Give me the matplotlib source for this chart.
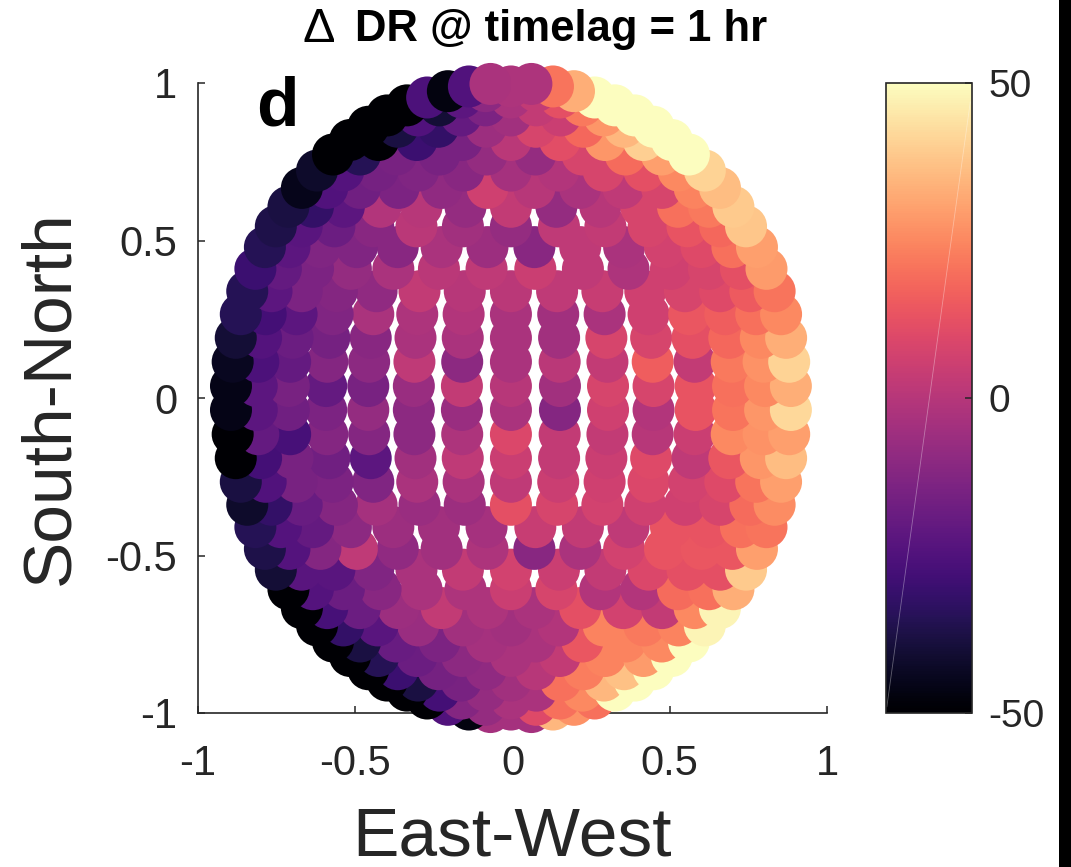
import numpy as np
import matplotlib
matplotlib.use('Agg')
import matplotlib.pyplot as plt
from matplotlib.patches import Rectangle

plt.rcParams['font.family'] = 'Liberation Sans'

# rows, north to south
row_y = [0.997, 0.989, 0.974, 0.954, 0.929, 0.897, 0.861, 0.819, 0.773, 0.722,
         0.667, 0.607, 0.545, 0.479, 0.410, 0.339, 0.266, 0.191, 0.115, 0.038,
         -0.038, -0.115, -0.191, -0.266, -0.339, -0.410, -0.479, -0.545, -0.607, -0.667,
         -0.722, -0.773, -0.819, -0.861, -0.897, -0.929, -0.954, -0.974, -0.989, -0.997]
row_width = [0.073, 0.150, 0.225, 0.299, 0.371, 0.442, 0.509, 0.574, 0.635, 0.692,
             0.746, 0.794, 0.839, 0.878, 0.912, 0.941, 0.964, 0.982, 0.993, 0.999,
             0.999, 0.993, 0.982, 0.964, 0.941, 0.912, 0.878, 0.839, 0.794, 0.746,
             0.692, 0.635, 0.574, 0.509, 0.442, 0.371, 0.299, 0.225, 0.150, 0.073]

# east half of a row, looked up by how many dots the row has
row_positions = {
    2: [0.891],
    3: [0, 0.891],
    4: [0.358, 0.891],
    5: [0, 0.522, 0.891],
    6: [0.218, 0.613, 0.891],
    7: [0, 0.358, 0.669, 0.891],
    8: [0.156, 0.454, 0.707, 0.891],
    9: [0, 0.271, 0.522, 0.734, 0.891],
    10: [0.122, 0.358, 0.574, 0.755, 0.891],
    11: [0, 0.218, 0.426, 0.613, 0.770, 0.891],
    12: [0.100, 0.295, 0.479, 0.644, 0.783, 0.891],
    13: [0, 0.182, 0.358, 0.522, 0.669, 0.793, 0.891],
    14: [0.085, 0.251, 0.410, 0.558, 0.690, 0.802, 0.891],
    15: [0, 0.156, 0.309, 0.454, 0.588, 0.707, 0.809, 0.891],
}

# one list per row, west to east
delta_dr = [
    [-3, -2],
    [-25, -2, 21],
    [-47, -10, 3, 33],
    [-26, -22, -3, 12, 50],
    [-50, -40, -14, 3, 22, 50],
    [-50, -25, -20, -5, 5, 28, 50],
    [-50, -38, -32, -6, 8, 18, 35, 50],
    [-50, -50, -30, -15, 1, 11, 28, 40, 50],
    [-50, -35, -15, -15, -8, -8, 8, 19, 30, 50],
    [-42, -24, -16, -13, -11, -4, -1, 8, 12, 25, 41],
    [-45, -25, -17, -14, -9, 6, 0, -3, 2, 8, 24, 36],
    [-38, -32, -22, -1, 0, -8, 3, -8, 0, 8, 20, 22, 39],
    [-37, -23, -18, -11, 1, -5, -8, 2, 3, 8, 13, 18, 38],
    [-35, -22, -13, -13, -11, -3, -6, -11, 2, -3, 7, 10, 20, 30],
    [-30, -20, -14, -8, -3, 1, 2, 5, 2, -2, 6, 8, 12, 29],
    [-35, -22, -14, -12, -9, 3, 0, 1, 2, 4, 6, 8, 10, 15, 21],
    [-35, -28, -22, -13, -3, -2, -1, -3, -5, -3, 6, 14, 16, 20, 25],
    [-40, -24, -18, -16, -11, -3, -3, -3, -5, 8, 8, 12, 18, 25, 33],
    [-44, -26, -20, -12, -10, 2, -10, -3, 1, 3, 16, 3, 22, 27, 41],
    [-46, -22, -15, -20, -15, -7, 3, 0, -5, 8, 8, 13, 20, 25, 33],
    [-46, -22, -17, -14, -8, -10, -7, -3, -12, 6, -1, 13, 21, 28, 42],
    [-50, -20, -27, -12, -12, -10, -2, 9, 3, 3, 0, 5, 25, 27, 30],
    [-50, -28, -15, -17, -22, -5, 2, 5, 3, 5, 10, 2, 14, 28, 36],
    [-38, -25, -15, -14, -13, -3, -3, 2, 5, 6, 9, 7, 10, 21, 30],
    [-42, -32, -19, -12, -4, -7, -6, 12, 8, 7, 6, 6, 8, 19, 26],
    [-35, -24, -20, -10, -6, -5, -4, 4, 3, 2, 13, 13, 20, 21],
    [-37, -24, -12, 2, -9, -5, -2, -11, -3, 7, 13, 14, 14, 30],
    [-40, -23, -23, -13, -3, 3, 7, 5, 3, 9, 12, 12, 39],
    [-50, -24, -18, -11, -3, -2, 5, 8, -1, -1, 19, 20, 33],
    [-50, -27, -18, -6, 3, -2, -3, 12, 7, 3, 25, 48],
    [-50, -32, -23, -7, -5, -5, -1, 24, 22, 24, 48],
    [-50, -38, -19, -14, -4, -3, 14, 24, 25, 50],
    [-50, -35, -18, -10, -3, 3, 24, 29, 50],
    [-50, -30, -16, -9, 0, 23, 37, 50],
    [-50, -38, -15, -5, 20, 35, 50],
    [-50, -28, -8, -3, 25, 50],
    [-50, -12, -3, 20, 20],
    [-25, -8, 10, 27],
    [-47, -4, 35],
    [-4, -4],
]

x_ticks = [-1, -0.5, 0, 0.5, 1]
y_ticks = [-1, -0.5, 0, 0.5, 1]
tick_labels = ['-1', '-0.5', '0', '0.5', '1']
cbar_ticks = [-50, 0, 50]
cbar_labels = ['-50', '0', '50']

W, H = 1071, 867
fig = plt.figure(figsize=(W / 100, H / 100), dpi=100)
ax = fig.add_axes([198 / W, 1 - 713 / H, 629 / W, 630 / H])
dark = '#262626'

# south rows first, and rim last inside a row, so the upper and outer dots lie on top
xs, ys, vals = [], [], []
for r in range(len(row_y) - 1, -1, -1):
    row_vals = delta_dr[r]
    half = row_positions[len(row_vals)]
    pos = sorted(set([-p for p in half] + half))
    for i in np.argsort(np.abs(pos)):
        xs.append(pos[i] * row_width[r] - 0.005)
        ys.append(row_y[r])
        vals.append(row_vals[i])

sc = ax.scatter(xs, ys, c=vals, s=915, cmap='magma', vmin=-50, vmax=50,
                linewidths=0, clip_on=False, zorder=5)

ax.set_xlim(-1, 1)
ax.set_ylim(-1, 1)
ax.spines['top'].set_visible(False)
ax.spines['right'].set_visible(False)
for side in ['left', 'bottom']:
    ax.spines[side].set_color(dark)
    ax.spines[side].set_linewidth(1.2)
ax.set_xticks(x_ticks)
ax.set_xticklabels(tick_labels)
ax.set_yticks(y_ticks)
ax.set_yticklabels(tick_labels)
ax.tick_params(direction='in', length=5, width=1.1, color=dark, labelcolor=dark,
               labelsize=30)
ax.tick_params(axis='x', pad=22)
ax.tick_params(axis='y', pad=15)

fig.text(50 / W, 1 - 398 / H, 'South-North', rotation=90, fontsize=50, color=dark,
         ha='center', va='center')
fig.text(512 / W, 1 - 837 / H, 'East-West', fontsize=50, color=dark,
         ha='center', va='center')
fig.text(303 / W, 1 - 30 / H, '\u0394', fontsize=35, color='black', ha='left', va='center')
fig.text(355 / W, 1 - 30 / H, 'DR @ timelag = 1 hr', fontsize=31.4, fontweight='bold',
         color='black', ha='left', va='center')
fig.text(277 / W, 1 - 107 / H, 'd', fontsize=50, fontweight='bold', color='black',
         ha='center', va='center', zorder=10)

cax = fig.add_axes([886 / W, 1 - 713 / H, 86 / W, 630 / H])
cbar = fig.colorbar(sc, cax=cax)
cbar.set_ticks(cbar_ticks)
cbar.set_ticklabels(cbar_labels)
cbar.ax.tick_params(direction='in', length=5, width=1.1, color=dark, labelcolor=dark,
                    labelsize=28, pad=12)
cbar.outline.set_edgecolor(dark)
cbar.outline.set_linewidth(1.2)
# faint seam across the colour bar
cax.plot([0.01, 0.98], [0.01, 0.97], transform=cax.transAxes, color='white',
         lw=0.6, alpha=0.35)

# black strip on the right edge of the screenshot
fig.add_artist(Rectangle((1059 / W, 0), 12 / W, 1, transform=fig.transFigure,
                         facecolor='black', edgecolor='none'))

fig.savefig('out.png', dpi=100)
